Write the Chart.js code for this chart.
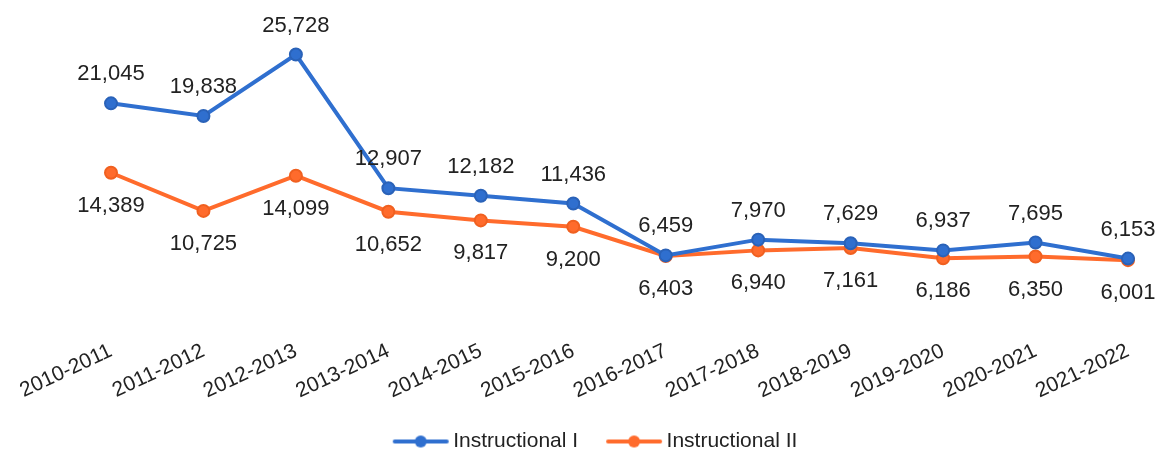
<!DOCTYPE html>
<html>
<head>
<meta charset="utf-8">
<script src="https://cdn.jsdelivr.net/npm/chart.js@4/dist/chart.umd.min.js"></script>
<style>
  html, body { margin: 0; padding: 0; background: #fff; }
  #wrap { width: 1162px; height: 452px; }
</style>
</head>
<body>
<div id="wrap"><canvas id="myChart"></canvas></div>
<script>
// anos letivos
const years = [
  '2010-2011', '2011-2012', '2012-2013', '2013-2014', '2014-2015', '2015-2016',
  '2016-2017', '2017-2018', '2018-2019', '2019-2020', '2020-2021', '2021-2022'
];

const instructionalI = [21045, 19838, 25728, 12907, 12182, 11436, 6459, 7970, 7629, 6937, 7695, 6153];
const instructionalII = [14389, 10725, 14099, 10652, 9817, 9200, 6403, 6940, 7161, 6186, 6350, 6001];

const blue = '#2f6fcf';
const orange = '#ff6b2c';
const fontFam = '"Liberation Sans", Arial, sans-serif';

// desenho da legenda: linha com bolinha (imagem mais larga que a caixa)
function legendMark(color) {
  const c = document.createElement('canvas');
  c.width = 92; c.height = 16;
  const g = c.getContext('2d');
  g.strokeStyle = color;
  g.lineWidth = 4;
  g.lineCap = 'round';
  g.beginPath(); g.moveTo(37, 8); g.lineTo(89, 8); g.stroke();
  g.fillStyle = color;
  g.beginPath(); g.arc(63, 8, 6, 0, Math.PI * 2); g.fill();
  return c;
}

// rótulos dos valores em cima / embaixo dos pontos
const valueLabels = {
  id: 'valueLabels',
  afterDatasetsDraw(chart) {
    const ctx = chart.ctx;
    ctx.save();
    ctx.font = '22px ' + fontFam;
    ctx.fillStyle = '#222';
    ctx.textAlign = 'center';
    ctx.textBaseline = 'middle';
    chart.data.datasets.forEach((ds, i) => {
      const meta = chart.getDatasetMeta(i);
      const dy = i === 0 ? -29 : 33;
      meta.data.forEach((pt, j) => {
        ctx.fillText(ds.data[j].toLocaleString('en-US'), pt.x, pt.y + dy);
      });
    });
    ctx.restore();
  }
};

let myChart = document.getElementById('myChart').getContext('2d');

let enrollChart = new Chart(myChart, {
  type: 'line',
  data: {
    labels: years,
    datasets: [{
      label: 'Instructional I',
      data: instructionalI,
      borderColor: blue,
      backgroundColor: blue,
      pointBorderColor: '#2a62b8',
      borderWidth: 4,
      pointRadius: 6,
      pointBorderWidth: 2,
      tension: 0
    }, {
      label: 'Instructional II',
      data: instructionalII,
      borderColor: orange,
      backgroundColor: orange,
      pointBorderColor: '#f06020',
      borderWidth: 4,
      pointRadius: 6,
      pointBorderWidth: 2,
      tension: 0
    }]
  },
  options: {
    responsive: true,
    maintainAspectRatio: false,
    animation: false,
    layout: { padding: { left: 0, right: 0, top: 10, bottom: -10 } },
    scales: {
      x: {
        offset: false,
        grid: { display: false },
        border: { display: false },
        ticks: {
          color: '#222',
          font: { family: fontFam, size: 21 },
          minRotation: 25,
          maxRotation: 25,
          padding: 8
        },
        afterFit(scale) {
          scale.height += 19;
          scale.paddingLeft = 111;
          scale.paddingRight = 34;
        }
      },
      y: {
        display: false,
        min: 0,
        max: 30000
      }
    },
    plugins: {
      tooltip: { enabled: false },
      legend: {
        position: 'bottom',
        labels: {
          color: '#222',
          font: { family: fontFam, size: 21 },
          usePointStyle: true,
          pointStyleWidth: 78,
          padding: 0,
          generateLabels(chart) {
            const items = Chart.defaults.plugins.legend.labels.generateLabels(chart);
            items.forEach((it, k) => { it.pointStyle = legendMark(k === 0 ? blue : orange); });
            return items;
          }
        }
      }
    }
  },
  plugins: [valueLabels]
});
</script>
</body>
</html>
